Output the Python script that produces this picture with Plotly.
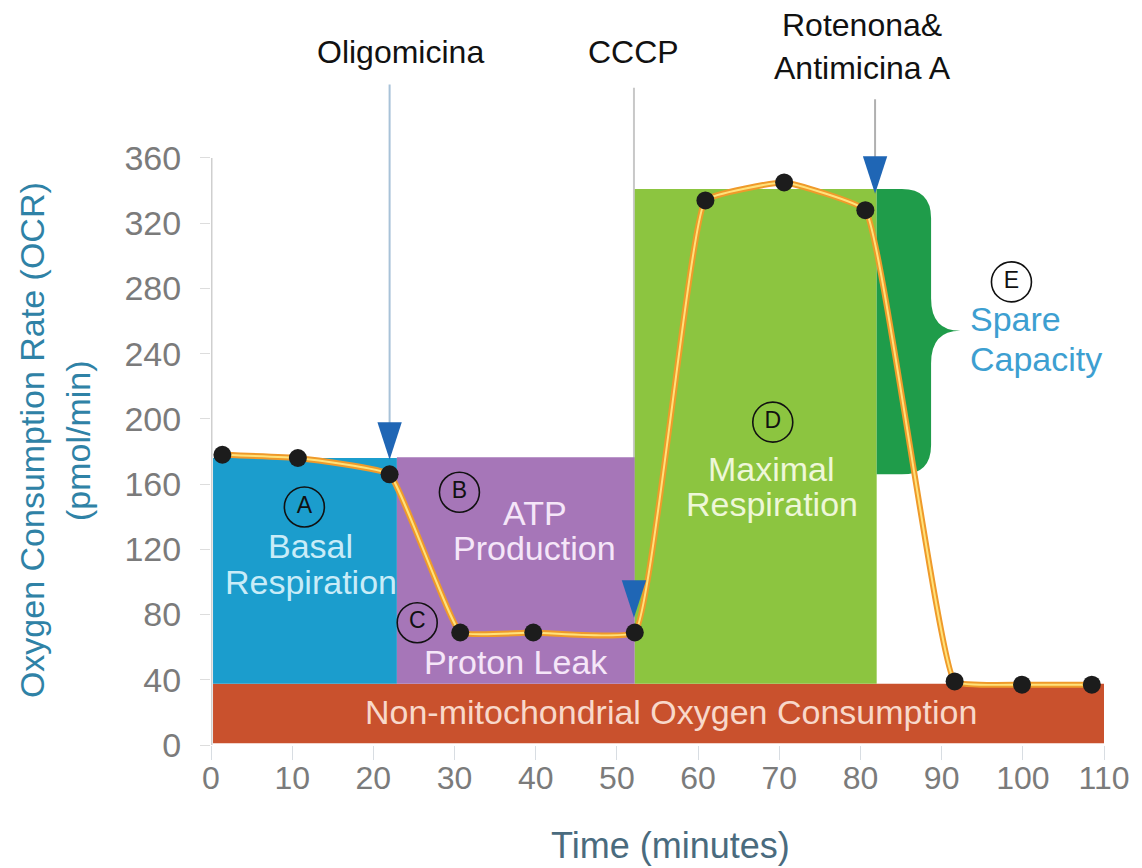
import plotly.graph_objects as go

# ---------------- data ----------------
time_min = [1.4, 10.7, 22.0, 30.7, 39.7, 52.2, 60.9, 70.6, 80.6, 91.6, 99.9, 108.5]
ocr = [178, 176, 166, 69, 69, 69, 334, 345, 328, 39, 37, 37]

x_ticks = [0, 10, 20, 30, 40, 50, 60, 70, 80, 90, 100, 110]
y_ticks = [0, 40, 80, 120, 160, 200, 240, 280, 320, 360]

# coloured regions: name, x0, x1, y0, y1, colour
region_names = ["nonmito", "basal", "atp", "maximal"]
region_x0 = [0.25, 0.25, 22.9, 52.2]
region_x1 = [110, 22.9, 52.2, 82.0]
region_y0 = [1, 37.5, 37.5, 37.5]
region_y1 = [37.5, 176, 176.5, 341]
region_colors = ["#c9512d", "#1b9dcd", "#a676b8", "#8cc540"]

# spare capacity brace region
spare_x0, spare_x1, spare_tip = 82.0, 88.7, 92.3
spare_y0, spare_y1, spare_mid = 166, 341, 254
spare_color = "#1f9c4a"

# injections
inj_names = ["Oligomicina", "CCCP", "Rotenona&amp;", "Antimicina A"]
inj_x = [22.0, 52.1, 81.8]
inj_top = [405, 403, 396]
inj_tip = [175, 78, 338]
inj_line_colors = ["#a8c2d8", "#c8c8c8", "#b0b0b0"]
head_color = "#1f66b5"

# circled letters
letters = ["A", "B", "C", "D", "E"]
letter_x = [11.5, 30.6, 25.4, 69.2, 98.6]
letter_y = [146, 155, 75, 198, 284]

FONT = "Liberation Sans, Arial, sans-serif"

fig = go.Figure()

shapes = []
# injection lines (below regions)
for x, top, tip, c in zip(inj_x, inj_top, inj_tip, inj_line_colors):
    shapes.append(dict(type="line", xref="x", yref="y", x0=x, x1=x, y0=top, y1=tip + 20,
                       line=dict(color=c, width=2), layer="below"))
# y axis line
shapes.append(dict(type="line", xref="x", yref="y", x0=0, x1=0, y0=0, y1=360,
                   line=dict(color="#cfcfcf", width=3), layer="below"))
# regions
for x0, x1, y0, y1, c in zip(region_x0, region_x1, region_y0, region_y1, region_colors):
    shapes.append(dict(type="rect", xref="x", yref="y", x0=x0, x1=x1, y0=y0, y1=y1,
                       fillcolor=c, line=dict(width=0), layer="below"))
# spare capacity brace
rx, ry, dy = 3.6, 18, 20
p = (f"M{spare_x0},{spare_y1} L{spare_x1 - rx},{spare_y1} "
     f"Q{spare_x1},{spare_y1} {spare_x1},{spare_y1 - ry} "
     f"L{spare_x1},{spare_mid + dy} Q{spare_x1},{spare_mid} {spare_tip},{spare_mid} "
     f"Q{spare_x1},{spare_mid} {spare_x1},{spare_mid - dy} "
     f"L{spare_x1},{spare_y0 + ry} Q{spare_x1},{spare_y0} {spare_x1 - rx},{spare_y0} "
     f"L{spare_x0},{spare_y0} Z")
shapes.append(dict(type="path", xref="x", yref="y", path=p, fillcolor=spare_color,
                   line=dict(width=0), layer="below"))

# arrow heads (drawn above traces)
hw, hh = 1.5, 23
for x, tip in zip(inj_x, inj_tip):
    shapes.append(dict(type="path", xref="x", yref="y",
                       path=f"M{x - hw},{tip + hh} L{x + hw},{tip + hh} L{x},{tip} Z",
                       fillcolor=head_color, line=dict(width=0), layer="above"))

# OCR curve
fig.add_trace(go.Scatter(x=time_min, y=ocr, mode="lines",
                         line=dict(color="#ef9a2a", width=6, shape="spline", smoothing=0.3),
                         hoverinfo="skip", showlegend=False))
fig.add_trace(go.Scatter(x=time_min, y=ocr, mode="lines",
                         line=dict(color="#ffe27a", width=2, shape="spline", smoothing=0.3),
                         hoverinfo="skip", showlegend=False))
fig.add_trace(go.Scatter(x=time_min, y=ocr, mode="markers",
                         marker=dict(color="#1c1c1c", size=18),
                         showlegend=False, cliponaxis=False))
# circled letters
fig.add_trace(go.Scatter(x=letter_x, y=letter_y, mode="markers+text", text=letters,
                         textposition="middle center",
                         textfont=dict(family=FONT, size=23, color="#111111"),
                         marker=dict(symbol="circle-open", size=40,
                                     line=dict(color="#111111", width=1.6), color="#111111"),
                         showlegend=False))

ann = []
# injection labels (paper y so they can sit above the axis range)
inj_label_x = [inj_x[0] + 1.3, inj_x[1], 80.2, 80.2]
inj_label_y = [0.9886, 0.9886, 1.0271, 0.9658]
for t, x, y in zip(inj_names, inj_label_x, inj_label_y):
    ann.append(dict(x=x, y=y, xref="x", yref="paper", text=t, showarrow=False,
                    xanchor="center", yanchor="middle",
                    font=dict(family=FONT, size=32, color="#111111")))

def lab(x, y, t, c, size=34, xanchor="center"):
    return dict(x=x, y=y, xref="x", yref="y", text=t, showarrow=False, xanchor=xanchor,
                yanchor="middle", font=dict(family=FONT, size=size, color=c))

ann += [
    lab(12.3, 122, "Basal", "#c9ecf8"),
    lab(12.3, 100, "Respiration", "#c9ecf8"),
    lab(39.9, 142, "ATP", "#f5e6f8"),
    lab(39.9, 121, "Production", "#f5e6f8"),
    lab(37.6, 51, "Proton Leak", "#f5e6f8"),
    lab(69.1, 169, "Maximal", "#eef7d8"),
    lab(69.1, 148, "Respiration", "#eef7d8"),
    lab(56.7, 20, "Non-mitochondrial Oxygen Consumption", "#f8d8ca"),
    lab(93.3, 261, "Spare", "#3d9fd1", xanchor="left"),
    lab(93.3, 237, "Capacity", "#3d9fd1", xanchor="left"),
]
# axis titles (paper coordinates, outside the plotting area)
ann.append(dict(x=-0.2004, y=0.435, xref="paper", yref="paper", xanchor="center",
                yanchor="middle", text="Oxygen Consumption Rate (OCR)", textangle=-90,
                showarrow=False, font=dict(family=FONT, size=34, color="#2f82a6")))
ann.append(dict(x=-0.149, y=0.435, xref="paper", yref="paper", xanchor="center",
                yanchor="middle", text="(pmol/min)", textangle=-90, showarrow=False,
                font=dict(family=FONT, size=34, color="#2f82a6")))
ann.append(dict(x=0.515, y=-0.1427, xref="paper", yref="paper", xanchor="center",
                yanchor="middle", text="Time (minutes)", showarrow=False,
                font=dict(family=FONT, size=36, color="#4a6b7e")))

fig.update_layout(
    width=1134, height=860,
    margin=dict(l=203, r=38, t=36, b=123),
    paper_bgcolor="white", plot_bgcolor="white",
    shapes=shapes, annotations=ann, showlegend=False,
    xaxis=dict(range=[0, 110], tickvals=x_ticks, ticks="outside", ticklen=14,
               tickcolor="#d8dde2", showgrid=False, zeroline=False, showline=False,
               ticklabelstandoff=-9,
               tickfont=dict(family=FONT, size=32, color="#7b7b7b")),
    yaxis=dict(range=[0, 429.9], tickvals=y_ticks, ticks="outside", ticklen=10,
               tickcolor="#dddddd", showgrid=False, zeroline=False, showline=False,
               ticklabelstandoff=12,
               tickfont=dict(family=FONT, size=34, color="#7b7b7b")),
)

fig.write_html("out.html")
